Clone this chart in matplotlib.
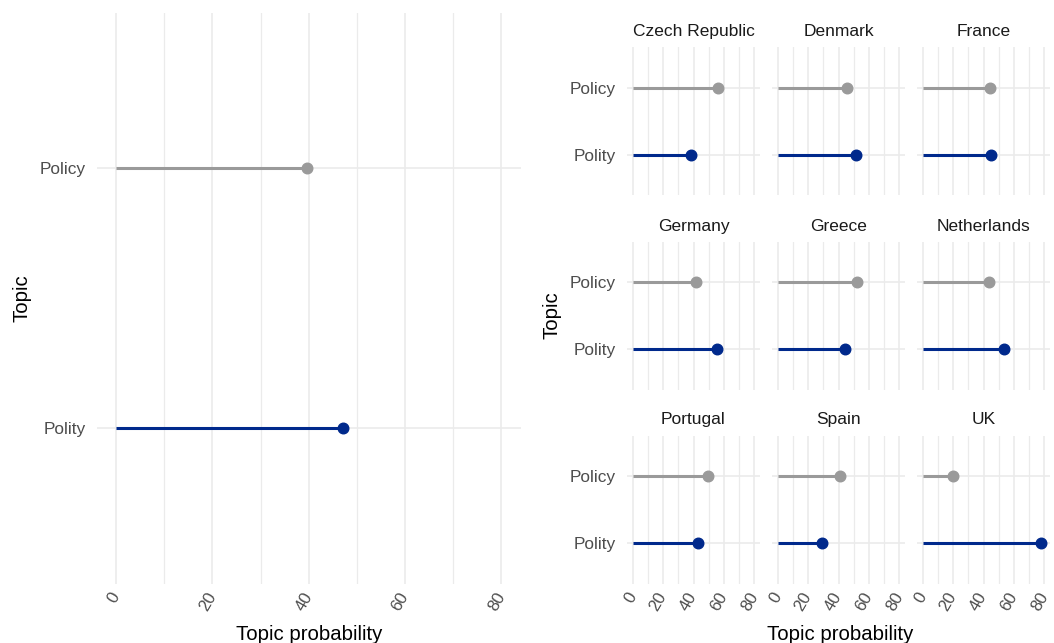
import numpy as np
import matplotlib
matplotlib.use("Agg")
import matplotlib.pyplot as plt

plt.rcParams['font.family'] = ['Liberation Sans', 'DejaVu Sans']

# data
topics = ["Polity", "Policy"]
topic_colors = ["#00298C", "#9A9A9A"]
overall = [47.2, 39.6]          # polity, policy

countries = ["Czech Republic", "Denmark", "France",
             "Germany", "Greece", "Netherlands",
             "Portugal", "Spain", "UK"]
policy = [55.9, 45.6, 44.1, 41.9, 52.2, 43.6, 49.8, 41.0, 19.7]
polity = [38.4, 51.5, 45.0, 55.3, 44.3, 53.5, 43.0, 28.9, 77.6]

xticks = [0, 20, 40, 60, 80]
xminor = [10, 30, 50, 70]

W, H = 1054, 643
fig = plt.figure(figsize=(W / 100, H / 100), dpi=100)

GRID = "#EBEBEB"
TICK = "#4D4D4D"


def px_axes(x0, x1, ytop, ybot):
    return fig.add_axes([x0 / W, (H - ybot) / H, (x1 - x0) / W, (ybot - ytop) / H])


def lollipop(ax, values, show_x, show_y):
    ax.set_xlim(-4, 84)
    for t, v, c in zip(topics, values, topic_colors):
        ax.plot([0, v], [t, t], color=c, lw=2.2, solid_capstyle='butt', zorder=3)
        ax.plot([v], [t], 'o', color=c, ms=7.6, zorder=4)
    ax.set_ylim(-0.6, 1.6)
    ax.set_xticks(xticks)
    ax.set_xticks(xminor, minor=True)
    ax.grid(which='major', color=GRID, lw=1.2, zorder=0)
    ax.grid(which='minor', axis='x', color=GRID, lw=0.9, zorder=0)
    ax.set_axisbelow(True)
    for s in ax.spines.values():
        s.set_visible(False)
    ax.tick_params(which='both', length=0)
    ax.tick_params(axis='y', pad=7.7, labelsize=12.4, labelcolor=TICK)
    ax.tick_params(axis='x', pad=7, labelsize=12.2, labelcolor=TICK)
    if show_x:
        for lab in ax.get_xticklabels():
            lab.set_rotation(60)
            lab.set_ha('right')
            lab.set_va('center')
            lab.set_rotation_mode('anchor')
    else:
        ax.set_xticklabels([])
    if not show_y:
        ax.tick_params(axis='y', labelleft=False)


# left: all countries pooled
axl = px_axes(96.7, 520.7, 12.5, 583.8)
lollipop(axl, overall, True, True)

# right: one panel per country
col_x = [626.6, 771.6, 916.6]
row_y = [(47.3, 195.4), (242, 389.5), (435.6, 583.7)]
for i, name in enumerate(countries):
    r, c = divmod(i, 3)
    ax = px_axes(col_x[c], col_x[c] + 133.8, row_y[r][0], row_y[r][1])
    lollipop(ax, [polity[i], policy[i]], r == 2, c == 0)
    ax.set_title(name, fontsize=12.5, color="#1A1A1A", pad=8)

# axis titles
fig.text(308.7 / W, (H - 639.5) / H, "Topic probability", fontsize=14.7,
         ha='center', va='baseline')
fig.text(840 / W, (H - 639.5) / H, "Topic probability", fontsize=14.7,
         ha='center', va='baseline')
fig.text(22 / W, (H - 298) / H, "Topic", fontsize=14.7, rotation=90,
         ha='center', va='center')
fig.text(551.5 / W, (H - 315) / H, "Topic", fontsize=14.7, rotation=90,
         ha='center', va='center')

fig.savefig("out.png", dpi=100, facecolor="white")
